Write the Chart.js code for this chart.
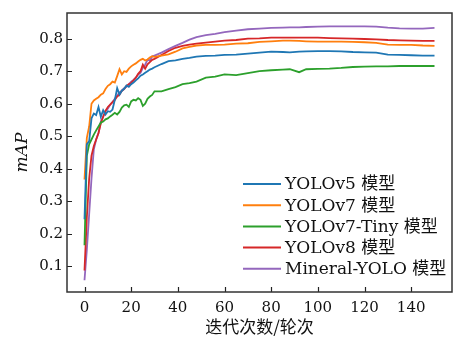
<!DOCTYPE html>
<html>
<head>
<meta charset="utf-8">
<script src="https://cdn.jsdelivr.net/npm/chart.js@4.4.1/dist/chart.umd.min.js"></script>
<style>
  html, body { margin: 0; padding: 0; background: #fff; }
  canvas { display: block; }
</style>
</head>
<body>
<canvas id="c" width="460" height="342"></canvas>
<script>
// ---- data ----
const epochs = [0,1,2,3,4,5,6,7,8,9,10,11,12,13,14,15,16,17,18,19,20,21,22,23,24,25,26,27,28,29,30,33,36,39,42,45,48,52,56,60,65,70,75,80,85,88,92,95,100,105,110,115,120,125,130,135,140,145,150];

const seriesNames = ['YOLOv5 模型', 'YOLOv7 模型', 'YOLOv7-Tiny 模型', 'YOLOv8 模型', 'Mineral-YOLO 模型'];

const yolov5 = [.245,.475,.485,.555,.57,.565,.59,.56,.58,.567,.577,.575,.582,.612,.648,.628,.64,.646,.656,.652,.66,.665,.672,.678,.686,.69,.695,.70,.705,.708,.712,.722,.731,.733,.738,.741,.745,.747,.748,.75,.751,.754,.757,.76,.759,.758,.76,.761,.762,.762,.761,.759,.758,.757,.751,.75,.749,.748,.748];

const yolov7 = [.367,.495,.53,.60,.61,.615,.62,.628,.632,.645,.655,.66,.668,.665,.685,.706,.69,.70,.698,.708,.715,.72,.724,.73,.735,.738,.733,.736,.742,.746,.744,.748,.752,.76,.77,.775,.779,.781,.781,.782,.785,.786,.79,.792,.794,.794,.793,.792,.791,.791,.791,.79,.789,.787,.782,.781,.781,.779,.778];

const yolov7tiny = [.165,.44,.475,.49,.505,.518,.53,.542,.545,.552,.555,.561,.566,.572,.567,.575,.588,.595,.597,.59,.607,.612,.61,.617,.612,.593,.60,.615,.622,.627,.638,.638,.645,.651,.66,.663,.668,.68,.683,.69,.688,.694,.70,.703,.705,.706,.697,.706,.707,.708,.71,.713,.714,.715,.715,.716,.716,.716,.716];

const yolov8 = [.087,.25,.37,.44,.47,.49,.51,.54,.56,.578,.59,.597,.605,.612,.622,.628,.64,.645,.655,.66,.664,.672,.68,.692,.70,.72,.708,.721,.728,.735,.738,.75,.762,.772,.778,.782,.785,.788,.791,.794,.796,.80,.801,.803,.803,.803,.803,.803,.803,.802,.801,.80,.799,.798,.796,.795,.794,.793,.793];

const mineralYolo = [.057,.15,.26,.37,.46,.49,.51,.545,.56,.577,.585,.597,.605,.615,.625,.635,.64,.648,.652,.66,.668,.673,.68,.69,.695,.71,.72,.735,.733,.745,.748,.757,.768,.778,.787,.797,.805,.811,.815,.82,.825,.829,.831,.833,.834,.835,.835,.836,.837,.838,.838,.838,.838,.837,.834,.832,.831,.831,.833];

const xTickValues = [0,20,40,60,80,100,120,140];
const yTickValues = [0.1,0.2,0.3,0.4,0.5,0.6,0.7,0.8];

const xLabel = '迭代次数/轮次';
const yLabel = 'mAP';

// ---- styles ----
const colors = ['#1f77b4', '#ff7f0e', '#2ca02c', '#d62728', '#9467bd'];
const FONT = '"DejaVu Serif", "Noto Sans CJK SC", serif';
const allSeries = [yolov5, yolov7, yolov7tiny, yolov8, mineralYolo];

const datasets = allSeries.map((vals, i) => ({
  label: seriesNames[i],
  data: vals.map((v, k) => ({ x: epochs[k], y: v })),
  borderColor: colors[i],
  backgroundColor: colors[i],
  borderWidth: 1.8,
  pointRadius: 0,
  tension: 0,
  fill: false
}));

const frameTicks = {
  id: 'frameTicks',
  afterDatasetsDraw(chart) {
    const { ctx, chartArea: { left, top, right, bottom }, scales: { x, y } } = chart;
    ctx.save();
    ctx.strokeStyle = '#222';
    ctx.lineWidth = 1.2;
    ctx.beginPath();
    x.ticks.forEach(t => {
      const px = Math.round(x.getPixelForValue(t.value)) + 0.5;
      ctx.moveTo(px, bottom); ctx.lineTo(px, bottom - 5);
    });
    y.ticks.forEach(t => {
      const py = Math.round(y.getPixelForValue(t.value)) + 0.5;
      ctx.moveTo(left, py); ctx.lineTo(left + 5, py);
    });
    ctx.stroke();
    ctx.lineWidth = 1.5;
    ctx.strokeStyle = '#333';
    ctx.strokeRect(left, top, right - left, bottom - top);
    ctx.restore();
  }
};

const innerLegend = {
  id: 'innerLegend',
  afterDraw(chart) {
    const { ctx, chartArea: { right, bottom } } = chart;
    const rowH = 21.2;
    const lineX0 = right - 209, lineX1 = right - 171, textX = right - 167;
    const firstY = bottom - 108;
    ctx.save();
    ctx.font = '17px ' + FONT;
    ctx.textBaseline = 'middle';
    ctx.textAlign = 'left';
    chart.data.datasets.forEach((ds, i) => {
      const yy = firstY + i * rowH;
      ctx.strokeStyle = ds.borderColor;
      ctx.lineWidth = 2;
      ctx.beginPath();
      ctx.moveTo(lineX0, yy); ctx.lineTo(lineX1, yy);
      ctx.stroke();
      ctx.fillStyle = '#111';
      ctx.fillText(ds.label, textX, yy + 1);
    });
    ctx.restore();
  }
};

new Chart(document.getElementById('c'), {
  type: 'line',
  data: { datasets },
  options: {
    responsive: false,
    animation: false,
    devicePixelRatio: 1,
    layout: { padding: { left: 0, right: 8, top: 7, bottom: 0 } },
    plugins: { legend: { display: false }, tooltip: { enabled: false } },
    scales: {
      x: {
        type: 'linear',
        min: -7.5,
        max: 157.5,
        afterBuildTicks: s => { s.ticks = xTickValues.map(v => ({ value: v })); },
        afterFit: s => { s.height = 50; },
        grid: { display: false, drawTicks: false },
        border: { display: false },
        ticks: {
          padding: 7,
          color: '#111',
          font: { family: FONT, size: 15 },
          maxRotation: 0,
          callback: v => String(v)
        },
        title: {
          display: true,
          text: xLabel,
          color: '#111',
          font: { family: '"Noto Sans CJK SC", sans-serif', size: 17 },
          padding: { top: 0, bottom: 5 }
        }
      },
      y: {
        type: 'linear',
        min: 0.021,
        max: 0.879,
        afterBuildTicks: s => { s.ticks = yTickValues.map(v => ({ value: v })); },
        afterFit: s => { s.width = 67; },
        grid: { display: false, drawTicks: false },
        border: { display: false },
        ticks: {
          padding: 4,
          color: '#111',
          font: { family: FONT, size: 15 },
          callback: v => Number(v).toFixed(1)
        },
        title: {
          display: true,
          text: yLabel,
          color: '#111',
          font: { family: FONT, size: 17, style: 'italic' },
          padding: { top: 12, bottom: 0 }
        }
      }
    }
  },
  plugins: [frameTicks, innerLegend]
});
</script>
</body>
</html>
